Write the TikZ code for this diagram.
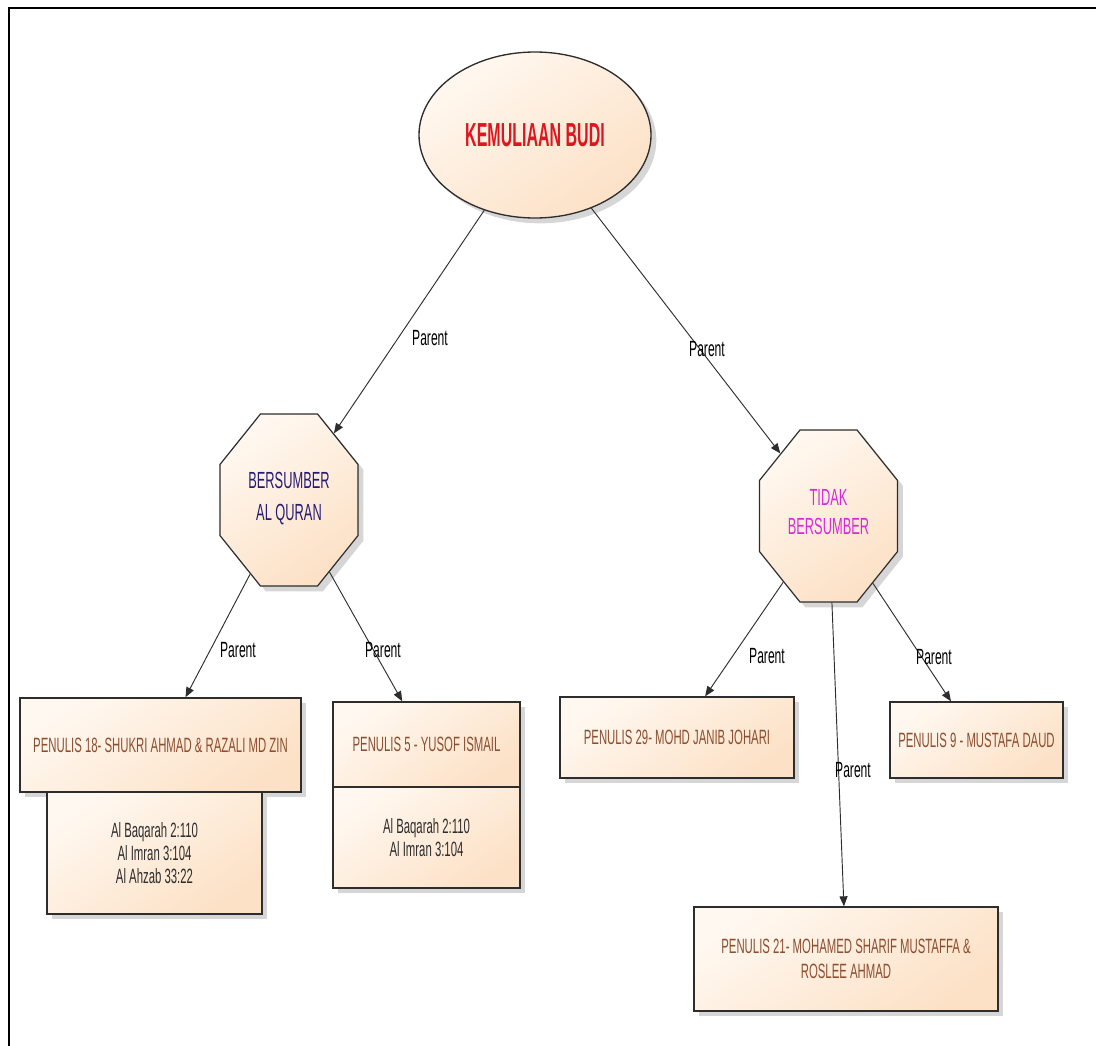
\documentclass[tikz,border=0pt]{standalone}
\usepackage{fontspec}
\setmainfont{Liberation Sans}
\newfontfamily\nar{Liberation Sans}[FakeStretch=0.55]
\newfontfamily\narT{Liberation Sans}[FakeStretch=0.48]
\usetikzlibrary{shapes.geometric,arrows.meta,shadows}
\definecolor{pL}{RGB}{255,248,240}
\definecolor{pD}{RGB}{252,225,198}
\definecolor{edgec}{RGB}{45,45,45}
\definecolor{titlered}{RGB}{222,22,32}
\definecolor{navy}{RGB}{38,28,118}
\definecolor{magen}{RGB}{214,44,214}
\definecolor{brownt}{RGB}{140,78,48}
\definecolor{versec}{RGB}{45,45,45}
\def\px#1{#1*0.75pt}
\tikzset{
  pfill/.style={shading=axis, top color=pL, bottom color=pD, shading angle=35},
  shad/.style={drop shadow={shadow xshift=4pt, shadow yshift=-4pt, fill=black, opacity=0.16}},
  rootsty/.style={ellipse, draw=edgec, line width=1pt, pfill, shad,
    minimum width=\px{232}, minimum height=\px{166}, inner sep=0pt,
    font=\narT\bfseries\fontsize{25}{28}\selectfont, text=titlered},
  octsty/.style={regular polygon, regular polygon sides=8, draw=edgec, line width=0.9pt,
    pfill, shad, minimum size=112pt, inner sep=0pt, yscale=1.246, transform shape},
  octtext/.style={align=center, inner sep=0pt},
  boxsty/.style={rectangle, draw=edgec, line width=1pt, pfill, shad, inner sep=0pt,
    font=\nar\fontsize{15.5}{18}\selectfont, text=brownt, align=center},
  versesty/.style={boxsty, text=versec, font=\nar\fontsize{15.5}{17.5}\selectfont},
  conn/.style={draw=edgec, line width=0.7pt, -{Triangle[length=7.5pt,width=6pt]}},
  lbl/.style={font=\nar\fontsize{16.5}{19}\selectfont, text=black, inner sep=0pt},
}
\begin{document}
\begin{tikzpicture}[x=0.75pt,y=-0.75pt]
\useasboundingbox (0,0) rectangle (1096,1046);
% frame
\draw[line width=1.75pt] (9.3,1046) -- (9.3,7.8) -- (1096,7.8);

% root
\node[rootsty] (root) at (535,135) {KEMULIAAN BUDI};

% octagons
\node[octsty] (oq) at (289,500) {};
\node[octtext, text=navy, font=\nar\fontsize{17.5}{24}\selectfont] (oqt) at (289,499) {BERSUMBER\\AL QURAN};
\node[octsty] (ot) at (828.5,516) {};
\node[octtext, text=magen, font=\nar\fontsize{17.5}{22}\selectfont] (ott) at (828.5,512) {TIDAK\\BERSUMBER};

% boxes
\node[boxsty, minimum width=\px{281}, minimum height=\px{94}] (p18) at (160.5,745) {PENULIS 18- SHUKRI AHMAD \& RAZALI MD ZIN};
\node[versesty, minimum width=\px{215}, minimum height=\px{122}] (p18v) at (154.5,853) {Al Baqarah 2:110\\Al Imran 3:104\\Al Ahzab 33:22};
\node[boxsty, minimum width=\px{187}, minimum height=\px{85}] (p5) at (426.5,744.5) {PENULIS 5 - YUSOF ISMAIL};
\node[versesty, minimum width=\px{187}, minimum height=\px{101}] (p5v) at (426.5,837.5) {Al Baqarah 2:110\\Al Imran 3:104};
\node[boxsty, minimum width=\px{234}, minimum height=\px{81}] (p29) at (677,737.5) {PENULIS 29- MOHD JANIB JOHARI};
\node[boxsty, minimum width=\px{173}, minimum height=\px{76}] (p9) at (976.5,740) {PENULIS 9 - MUSTAFA DAUD};
\node[boxsty, minimum width=\px{304}, minimum height=\px{104}, font=\nar\fontsize{15.5}{19}\selectfont] (p21) at (846,959) {PENULIS 21- MOHAMED SHARIF MUSTAFFA \&\\ROSLEE AHMAD};

% connectors
\draw[conn] (root) -- (oq);
\draw[conn] (root) -- (ot);
\draw[conn] (oq) -- (p18);
\draw[conn] (oq) -- (p5);
\draw[conn] (ot) -- (p29);
\draw[conn] (ot) -- (p9);
\draw[conn] (ot) -- (p21);

% labels
\node[lbl] (l1) at (430,338) {Parent};
\node[lbl] (l2) at (707,349) {Parent};
\node[lbl] (l3) at (238,650) {Parent};
\node[lbl] (l4) at (383,650) {Parent};
\node[lbl] (l5) at (767,656) {Parent};
\node[lbl] (l6) at (934,657) {Parent};
\node[lbl] (l7) at (853,770) {Parent};
\end{tikzpicture}
\end{document}
